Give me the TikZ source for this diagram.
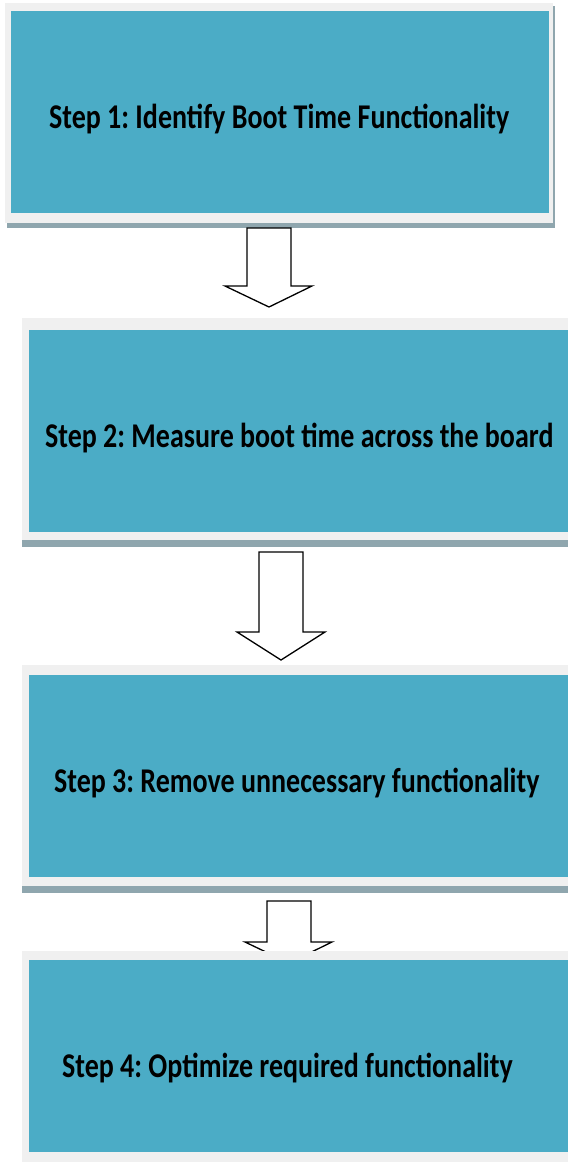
\documentclass[tikz,border=0pt]{standalone}
\usepackage{fontspec}
\setmainfont{Carlito}
\frenchspacing
\definecolor{teal1}{HTML}{4BACC6}
\definecolor{frame1}{HTML}{F0F0F0}
\definecolor{shadow1}{HTML}{8FA6AE}
\tikzset{
  frm/.style={fill=frame1, draw=none},
  shd/.style={fill=shadow1, draw=none},
  stepbox/.style={fill=teal1, draw=none, inner sep=0pt},
  steptext/.style={anchor=base west, inner sep=0pt, font=\bfseries\fontsize{28}{28}\selectfont},
  blockarrow/.style={fill=white, draw=black, line width=1.3pt, line join=miter},
}
\newcommand{\stxt}[1]{\scalebox{1}[1.24]{#1}}
\begin{document}
\begin{tikzpicture}[x=1pt,y=-1pt]
\useasboundingbox (0,0) rectangle (568,1162);
\fill[white] (0,0) rectangle (568,1162);
% Box 1
\fill[shd] (7,6) rectangle (555,228);
\fill[frm] (5,3) rectangle (553,223);
\node[stepbox, minimum width=538pt, minimum height=202pt, anchor=north west] (b1) at (11,11) {};
\node[steptext] (t1) at (49,128) {\stxt{Step 1: Identify Boot Time Functionality}};
% Arrow 1
\draw[blockarrow] (247,228) -- (291,228) -- (291,286) -- (312,286) -- (269,307) -- (225,286) -- (247,286) -- cycle;
% Box 2
\fill[shd] (22,323) rectangle (568,547);
\fill[frm] (22,318) rectangle (568,540);
\node[stepbox, minimum width=539pt, minimum height=202pt, anchor=north west] (b2) at (29,330) {};
\node[steptext] (t2) at (45,447) {\stxt{Step 2: Measure boot time across the board}};
% Arrow 2
\draw[blockarrow] (259,552) -- (303,552) -- (303,632) -- (325,632) -- (281,660) -- (237,632) -- (259,632) -- cycle;
% Box 3
\fill[shd] (22,668) rectangle (568,893);
\fill[frm] (22,665) rectangle (568,886);
\node[stepbox, minimum width=539pt, minimum height=202pt, anchor=north west] (b3) at (29,675) {};
\node[steptext] (t3) at (54,792) {\stxt{Step 3: Remove unnecessary functionality}};
% Arrow 3
\draw[blockarrow] (267,901) -- (311,901) -- (311,942) -- (332,942) -- (289,963) -- (245,942) -- (267,942) -- cycle;
% Box 4
\fill[frm] (22,951) rectangle (568,1162);
\node[stepbox, minimum width=539pt, minimum height=192pt, anchor=north west] (b4) at (29,960) {};
\node[steptext] (t4) at (62,1077) {\stxt{Step 4: Optimize required functionality}};
\end{tikzpicture}
\end{document}
